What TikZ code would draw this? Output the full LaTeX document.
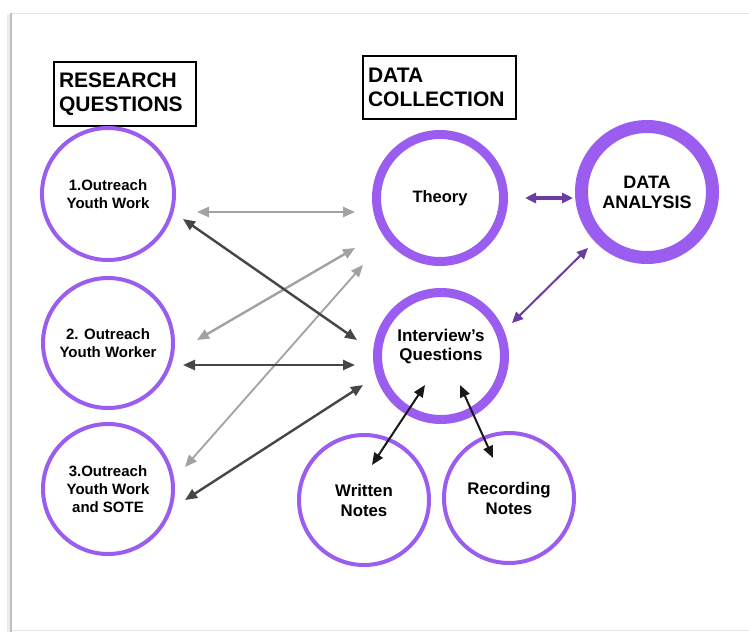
\documentclass[tikz,border=0pt]{standalone}
\usepackage{fontspec}
\setmainfont{Liberation Sans}
\usetikzlibrary{arrows.meta,calc}
\definecolor{ring}{HTML}{9B5CF0}
\definecolor{plum}{HTML}{6A3DA3}
\definecolor{arrlight}{HTML}{A2A2A2}
\definecolor{arrdark}{HTML}{464646}
% two centred lines, lifted without changing the node size
\newcommand{\liftlines}[2]{\raisebox{#1}[0pt][0pt]{\begin{tabular}{@{}c@{}}#2\end{tabular}}}
\begin{document}
\begin{tikzpicture}[x=1pt,y=-1pt,
  bubble/.style={circle,draw=ring,line width=4pt,inner sep=0pt,align=center,
    font=\fontsize{15}{18}\selectfont\bfseries},
  heading/.style={draw=black,line width=2pt,anchor=north west,align=left,
    inner xsep=5pt,inner ysep=4pt,font=\fontsize{21}{24.5}\selectfont\bfseries},
  link/.style={line width=2.4pt,{Triangle[length=12pt,width=10pt]}-{Triangle[length=12pt,width=10pt]}},
  lightlink/.style={link,draw=arrlight,fill=arrlight},
  darklink/.style={link,draw=arrdark,fill=arrdark},
  plumlink/.style={draw=plum,fill=plum,{Triangle[length=11pt,width=10pt]}-{Triangle[length=11pt,width=10pt]}},
  blacklink/.style={draw=black!90,line width=2pt,{Triangle[length=12pt,width=10pt]}-{Triangle[length=12pt,width=10pt]}}]
\useasboundingbox (0,0) rectangle (749,632);
\fill[white] (0,0) rectangle (749,632);
% page frame with a soft left shadow
\draw[black!10,line width=1pt] (11,13) -- (749,13);
\draw[black!10,line width=1pt] (11,630) -- (749,630);
\draw[black!8,line width=5pt] (9,14) -- (9,632);
\draw[black!25,line width=1.5pt] (11,13) -- (11,632);

% headings
\node[heading,text width=132pt,minimum height=64pt] (rq) at (53,61) {RESEARCH\\QUESTIONS};
\node[heading,text width=143pt,minimum height=63pt] (dc) at (362,55) {DATA\\COLLECTION};

% research questions
\node[bubble,minimum size=132pt] (q1) at (108,194) {1.Outreach\\Youth Work};
\node[bubble,minimum size=130pt] (q2) at (108,343) {2. Outreach\\Youth Worker};
\node[bubble,minimum size=130pt] (q3) at (108,489) {3.Outreach\\Youth Work\\and SOTE};

% data collection and analysis
\node[bubble,line width=9pt,minimum size=127pt,font=\fontsize{16.5}{19}\selectfont\bfseries] (theory) at (440,198) {Theory};
\node[bubble,line width=9pt,minimum size=127pt,font=\fontsize{17}{19}\selectfont\bfseries] (iq) at (441,356) {\liftlines{4pt}{Interview’s\\Questions}};
\node[bubble,line width=13pt,minimum size=131pt,font=\fontsize{18}{20}\selectfont\bfseries] (da) at (647,192) {DATA\\ANALYSIS};
\node[bubble,minimum size=130pt,font=\fontsize{16.8}{20}\selectfont\bfseries] (wn) at (364,500) {Written\\Notes};
\node[bubble,minimum size=130pt,font=\fontsize{16.8}{20}\selectfont\bfseries] (rn) at (509,498) {Recording\\Notes};

% links between questions and data collection
\draw[lightlink] ($(q1)+(89,18)$) -- ($(theory)+(-85,14)$);
\draw[lightlink] ($(q2)+(89,-3)$) -- ($(theory)+(-85,50)$);
\draw[lightlink,line width=1.8pt] ($(q3)+(77,-22)$) -- ($(theory)+(-77,67)$);
\draw[darklink] ($(q1)+(75,25)$) -- ($(iq)+(-84,-16)$);
\draw[darklink] ($(q2)+(75,22)$) -- ($(iq)+(-86,9)$);
\draw[darklink] ($(q3)+(77,11)$) -- ($(iq)+(-78,29)$);

% links to the analysis
\draw[plumlink,line width=3.4pt] ($(theory)+(85,0)$) -- ($(da)+(-74,6)$);
\draw[plumlink,line width=2pt] ($(da)+(-59,56)$) -- ($(iq)+(71,-33)$);

% links to the notes
\draw[blacklink] ($(iq)+(-16,29)$) -- ($(wn)+(8,-35)$);
\draw[blacklink] ($(iq)+(19,29)$) -- ($(rn)+(-16,-40)$);
\end{tikzpicture}
\end{document}
